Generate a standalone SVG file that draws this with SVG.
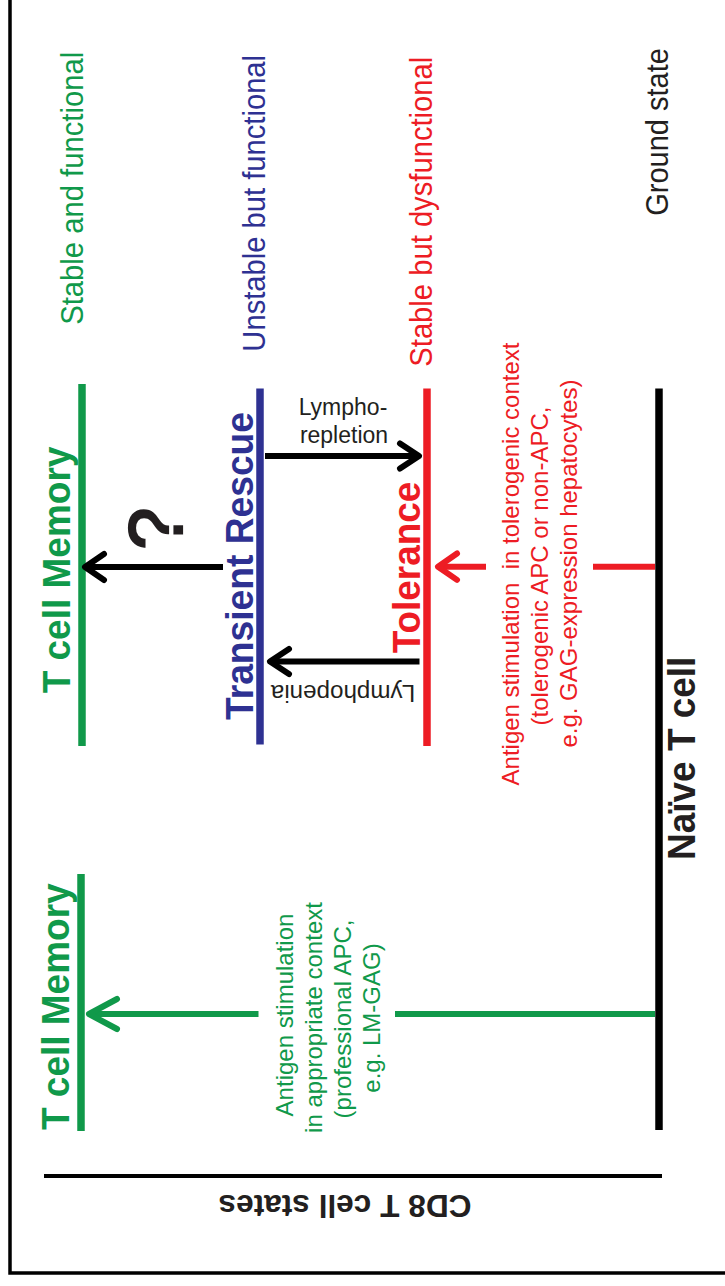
<svg xmlns="http://www.w3.org/2000/svg" width="725" height="1286" viewBox="0 0 725 1286">
<defs>
<style>
text { font-family: "Liberation Sans", Arial, Helvetica, sans-serif; }
.mid { text-anchor: middle; }
.b { font-weight: bold; }
.green { fill: #10994a; }
.blue { fill: #2e3192; }
.red { fill: #ed1c24; }
.dark { fill: #231f20; }
.state { fill: none; stroke-width: 7.5; stroke-linecap: butt; }
.shaft { fill: none; stroke-width: 6; stroke-linecap: butt; }
.head { fill: none; stroke-width: 6; stroke-linecap: round; stroke-linejoin: round; }
.desc { font-size: 31px; }
.title { font-size: 38px; font-weight: bold; }
.note { font-size: 24px; }
.pre { white-space: pre; }
</style>
</defs>
<rect x="0" y="0" width="725" height="1286" fill="#ffffff"/>

<g id="frame">
  <path d="M10,-5 V1273 H730" fill="none" stroke="#000" stroke-width="3.5"/>
  <line x1="44" y1="1176" x2="662" y2="1176" stroke="#000" stroke-width="4"/>
  <text class="mid b dark" font-size="31.5" textLength="253" lengthAdjust="spacingAndGlyphs" transform="translate(345,1194.5) rotate(180)">CD8 T cell states</text>
</g>

<g id="state-labels">
  <text class="mid desc green" textLength="273" lengthAdjust="spacingAndGlyphs" transform="translate(83,188.3) rotate(-90)">Stable and functional</text>
  <text class="mid desc blue" textLength="296.7" lengthAdjust="spacingAndGlyphs" transform="translate(265,203.3) rotate(-90)">Unstable but functional</text>
  <text class="mid desc red" textLength="310" lengthAdjust="spacingAndGlyphs" transform="translate(431.5,211.7) rotate(-90)">Stable but dysfunctional</text>
  <text class="mid desc dark" textLength="167.7" lengthAdjust="spacingAndGlyphs" transform="translate(668,132) rotate(-90)">Ground state</text>
</g>

<g id="node-memory-top">
  <line class="state" x1="82" y1="384" x2="82" y2="746" stroke="#10994a"/>
  <text class="mid title green" textLength="246.7" lengthAdjust="spacingAndGlyphs" transform="translate(70,570) rotate(-90)">T cell Memory</text>
</g>

<g id="node-transient-rescue">
  <line class="state" x1="260" y1="388.5" x2="260" y2="744.5" stroke="#2e3192"/>
  <text class="mid title blue" textLength="308" lengthAdjust="spacingAndGlyphs" transform="translate(253,566) rotate(-90)">Transient Rescue</text>
</g>

<g id="node-tolerance">
  <line class="state" x1="427" y1="388.5" x2="427" y2="746" stroke="#ed1c24"/>
  <text class="mid title red" textLength="171.7" lengthAdjust="spacingAndGlyphs" transform="translate(419.5,567.5) rotate(-90)">Tolerance</text>
</g>

<g id="node-naive">
  <line class="state" x1="659" y1="388.5" x2="659" y2="1130" stroke="#000"/>
  <text class="mid title dark" textLength="203.3" lengthAdjust="spacingAndGlyphs" transform="translate(695,758.3) rotate(-90)">Naïve T cell</text>
</g>

<g id="node-memory-bottom">
  <line class="state" x1="81" y1="874" x2="81" y2="1131" stroke="#10994a"/>
  <text class="mid title green" textLength="246.7" lengthAdjust="spacingAndGlyphs" transform="translate(68.5,1006.7) rotate(-90)">T cell Memory</text>
</g>

<g id="connectors">
  <!-- Transient Rescue -> T cell Memory (?) -->
  <line class="shaft" x1="85" y1="567" x2="223" y2="567" stroke="#000"/>
  <polyline class="head" points="104,554 85,567 104,580" stroke="#000"/>
  <text class="mid dark" font-size="76" stroke="#231f20" stroke-width="2.2" transform="translate(182,528.5) rotate(-90)">?</text>

  <!-- Lympho-repletion: Transient Rescue -> Tolerance -->
  <line class="shaft" x1="265" y1="456" x2="418" y2="456" stroke="#000"/>
  <polyline class="head" points="400,443.5 419,456 400,468.5" stroke="#000"/>
  <text class="mid dark" font-size="23" x="343" y="415">Lympho-</text>
  <text class="mid dark" font-size="23" x="344" y="443.3">repletion</text>

  <!-- Lymphopenia: Tolerance -> Transient Rescue -->
  <line class="shaft" x1="270" y1="661.5" x2="419.5" y2="661.5" stroke="#000"/>
  <polyline class="head" points="289,649 270,661.5 289,674" stroke="#000"/>
  <text class="mid dark" font-size="23.5" textLength="144.3" lengthAdjust="spacingAndGlyphs" transform="translate(343,685) rotate(180)">Lymphopenia</text>

  <!-- Naive -> Tolerance (tolerogenic) -->
  <line class="shaft" x1="438" y1="566.7" x2="486" y2="566.7" stroke="#ed1c24"/>
  <line class="shaft" x1="593" y1="566.7" x2="655" y2="566.7" stroke="#ed1c24"/>
  <polyline class="head" points="457,553.5 438,566.7 457,579.9" stroke="#ed1c24"/>
  <g class="note red">
    <text class="mid pre" xml:space="preserve" transform="translate(518.5,564) rotate(-90)">Antigen stimulation  in tolerogenic context</text>
    <text class="mid" transform="translate(547.5,566) rotate(-90)">(tolerogenic APC or non-APC,</text>
    <text class="mid" transform="translate(576.5,563.5) rotate(-90)">e.g. GAG-expression hepatocytes)</text>
  </g>

  <!-- Naive -> T cell Memory (appropriate) -->
  <line class="shaft" x1="89" y1="1014" x2="258.5" y2="1014" stroke="#10994a"/>
  <line class="shaft" x1="395" y1="1014" x2="655" y2="1014" stroke="#10994a"/>
  <polyline class="head" points="117,999 89,1014 117,1029" stroke="#10994a"/>
  <g class="note green">
    <text class="mid" transform="translate(292.5,1015) rotate(-90)">Antigen stimulation</text>
    <text class="mid" transform="translate(321.5,1017.5) rotate(-90)">in appropriate context</text>
    <text class="mid" transform="translate(350.5,1019) rotate(-90)">(professional APC,</text>
    <text class="mid" transform="translate(379.5,1018) rotate(-90)">e.g. LM-GAG)</text>
  </g>
</g>
</svg>
